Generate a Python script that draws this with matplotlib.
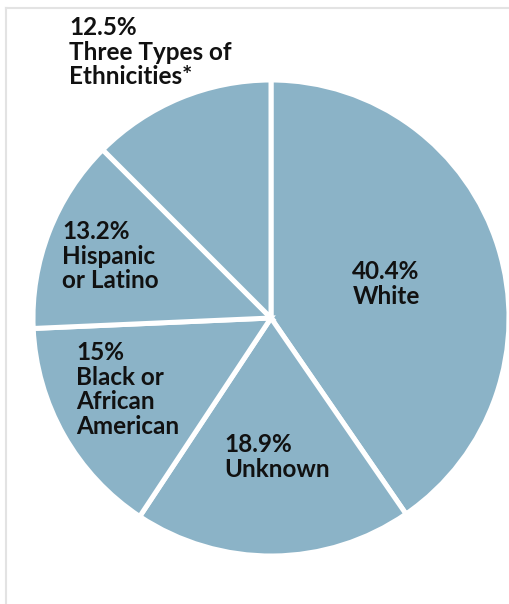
import matplotlib.pyplot as plt
from matplotlib.lines import Line2D

groups = ["White", "Unknown", "Black or\nAfrican\nAmerican", "Hispanic\nor Latino", "Three Types of\nEthnicities*"]
shares = [40.4, 18.9, 15, 13.2, 12.5]
share_text = ["40.4%", "18.9%", "15%", "13.2%", "12.5%"]

fill = "#8bb3c7"
ink = "#111111"

fig = plt.figure(figsize=(5.10, 6.04), dpi=100)
ax = fig.add_axes([0, 0, 1, 1])

# pie centre sits at pixel (271, 318), radius 238 px -> one data unit = 238 px
scale = 238.0
cx, cy = 271.0, 318.0
ax.pie(shares, colors=[fill] * len(shares), startangle=90, counterclock=False,
       radius=1.0, wedgeprops=dict(edgecolor="white", linewidth=3.6))
ax.set_xlim(-cx / scale, (510 - cx) / scale)
ax.set_ylim((cy - 604) / scale, cy / scale)
ax.set_aspect("auto")
ax.axis("off")

# light frame at left and top edge
fig.add_artist(Line2D([6 / 510, 6 / 510], [0, 1 - 8 / 604], color="#e3e3e3", lw=1.5))
fig.add_artist(Line2D([6 / 510, 1], [1 - 8 / 604, 1 - 8 / 604], color="#e3e3e3", lw=1.5))

# label anchors in pixels (x, top y, alignment)
anchors = [(386, 260, "center"), (224, 433, "left"), (76, 341, "left"),
           (62, 220, "left"), (69, 16, "left")]

def to_data(px, py):
    return (px - cx) / scale, (cy - py) / scale

for g, s, (px, py, ha) in zip(groups, share_text, anchors):
    x, y = to_data(px, py)
    ax.text(x, y, s + "\n" + g, ha=ha, va="top", fontsize=17.5,
            fontfamily="Lato", fontweight="bold", color=ink,
            linespacing=1.08, multialignment=ha)

fig.savefig("out.png", dpi=100)
